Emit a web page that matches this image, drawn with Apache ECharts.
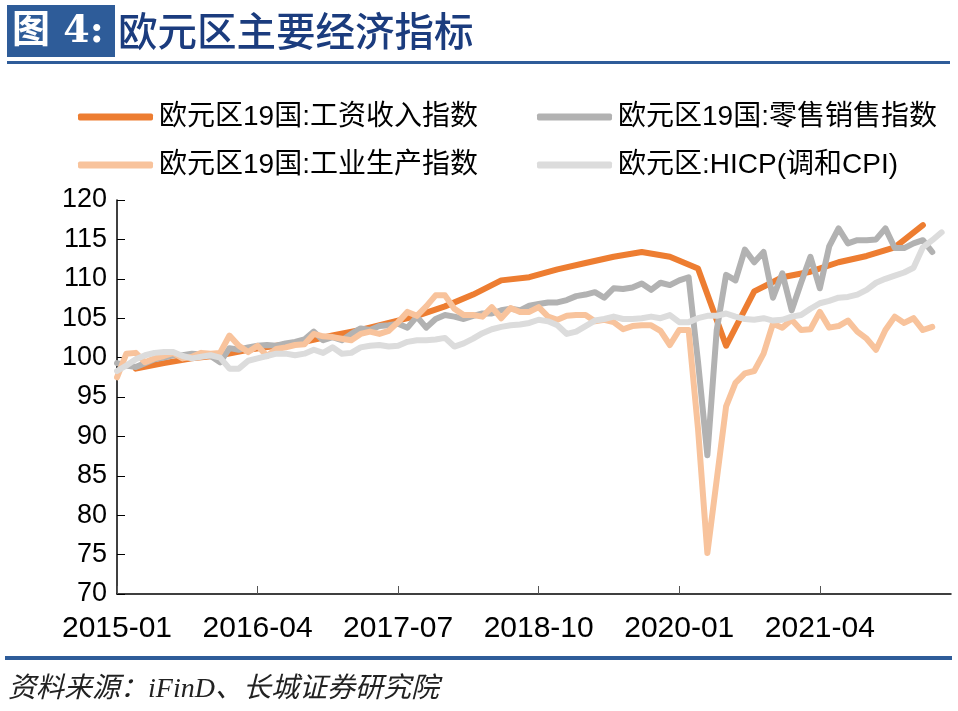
<!DOCTYPE html>
<html><head><meta charset="utf-8">
<script src="https://cdn.jsdelivr.net/npm/echarts@6/dist/echarts.min.js"></script>
<style>html,body{margin:0;padding:0;background:#fff}#c{width:958px;height:711px}</style>
</head><body><div id="c"></div>
<script>
const months = ['2015-01','2015-02','2015-03','2015-04','2015-05','2015-06','2015-07','2015-08','2015-09','2015-10','2015-11','2015-12',
'2016-01','2016-02','2016-03','2016-04','2016-05','2016-06','2016-07','2016-08','2016-09','2016-10','2016-11','2016-12',
'2017-01','2017-02','2017-03','2017-04','2017-05','2017-06','2017-07','2017-08','2017-09','2017-10','2017-11','2017-12',
'2018-01','2018-02','2018-03','2018-04','2018-05','2018-06','2018-07','2018-08','2018-09','2018-10','2018-11','2018-12',
'2019-01','2019-02','2019-03','2019-04','2019-05','2019-06','2019-07','2019-08','2019-09','2019-10','2019-11','2019-12',
'2020-01','2020-02','2020-03','2020-04','2020-05','2020-06','2020-07','2020-08','2020-09','2020-10','2020-11','2020-12',
'2021-01','2021-02','2021-03','2021-04','2021-05','2021-06','2021-07','2021-08','2021-09','2021-10','2021-11','2021-12',
'2022-01','2022-02','2022-03','2022-04','2022-05','2022-06'];

const seriesNames = ['欧元区19国:工资收入指数','欧元区19国:零售销售指数','欧元区19国:工业生产指数','欧元区:HICP(调和CPI)'];

const wageDates = ['2015-03','2015-06','2015-09','2015-12','2016-03','2016-06','2016-09','2016-12','2017-03','2017-06','2017-09','2017-12',
'2018-03','2018-06','2018-09','2018-12','2019-03','2019-06','2019-09','2019-12','2020-03','2020-06','2020-09','2020-12',
'2021-03','2021-06','2021-09','2021-12','2022-03'];
const wageValues = [98.6,99.3,99.9,100.3,101.0,101.5,102.0,102.8,103.5,104.4,105.3,106.5,
108.0,109.8,110.2,111.2,112.0,112.8,113.4,112.8,111.3,101.5,108.4,110.2,
110.9,112.1,112.9,114.0,116.8];

const retailValues = [99.3,99.0,98.8,99.3,99.8,100.0,100.3,100.3,100.5,100.4,100.2,99.4,
101.2,101.0,101.3,101.5,101.6,101.5,101.8,102.0,102.3,103.3,102.2,102.6,
102.2,103.0,103.7,103.5,104.0,104.1,104.3,103.8,105.2,103.8,104.9,105.4,
105.2,104.9,105.3,105.6,105.6,106.0,106.2,106.0,106.6,106.8,107.0,107.0,
107.3,107.8,108.0,108.3,107.6,108.8,108.7,108.9,109.4,108.6,109.5,109.2,
109.8,110.2,99.5,87.6,103.5,110.5,109.8,113.7,112.1,113.4,107.6,110.7,
106.0,109.5,112.8,108.8,114.1,116.4,114.5,114.9,114.9,115.0,116.4,113.9,
113.9,114.5,114.9,113.4];

const ipValues = [97.5,100.5,100.6,99.4,99.9,100.2,100.6,99.9,100.1,100.6,100.5,100.6,
102.8,101.5,100.7,101.5,100.2,101.1,101.3,101.6,101.7,103.0,102.7,102.6,
102.4,102.2,103.0,103.3,103.0,103.4,104.5,105.8,105.3,106.5,107.9,107.9,
106.2,105.4,105.4,105.2,106.4,105.0,106.3,105.8,105.8,106.4,105.2,104.8,
105.3,105.4,105.4,104.6,104.8,104.5,103.6,104.0,104.1,104.1,103.4,101.6,
103.5,103.5,91.0,75.2,84.5,93.8,96.8,98.0,98.3,100.5,104.3,103.8,
104.8,103.5,103.6,105.8,103.8,104.0,104.7,103.3,102.4,101.0,103.5,105.2,
104.4,105.0,103.5,103.9];

const hicpValues = [98.3,99.0,99.8,100.3,100.6,100.7,100.7,100.2,99.9,100.1,100.3,100.0,
98.6,98.6,99.6,99.9,100.2,100.5,100.5,100.3,100.5,101.0,100.6,101.3,
100.5,100.6,101.3,101.5,101.6,101.4,101.5,102.0,102.2,102.2,102.3,102.5,
101.4,101.8,102.4,103.1,103.6,103.9,104.1,104.2,104.4,104.8,104.6,104.1,
103.0,103.3,104.0,104.7,104.9,105.2,104.9,104.9,105.0,105.2,105.0,105.4,
104.5,104.5,105.0,105.3,105.3,105.6,105.2,104.9,104.8,105.0,104.7,104.8,
105.2,105.4,106.2,106.9,107.2,107.6,107.7,108.0,108.6,109.5,110.0,110.4,
110.8,111.4,114.0,114.9,115.9];

const yTicks = {min: 70, max: 120, interval: 5};
const colors = ['#ED7D31', '#B2B2B2', '#F8C39C', '#DCDCDC'];

const chart = echarts.init(document.getElementById('c'), null, {renderer: 'canvas'});

const wageData = wageDates.map((d, i) => [d, wageValues[i]]);
const dataList = [wageData, retailValues, ipValues, hicpValues];

function legendAt(name, left, top) {
  return {
    data: [name], left: left, top: top, orient: 'horizontal',
    icon: 'roundRect', itemWidth: 75, itemHeight: 7, itemGap: 0,
    selectedMode: false, padding: 0,
    textStyle: {fontSize: 28, color: '#000', fontFamily: '"Liberation Sans", "Noto Sans CJK SC", sans-serif', padding: [0,0,0,1], lineHeight: 30}
  };
}

const option = {
  animation: false,
  backgroundColor: '#fff',
  color: colors,
  legend: [
    legendAt(seriesNames[0], 78, 102),
    legendAt(seriesNames[1], 537, 102),
    legendAt(seriesNames[2], 78, 150),
    legendAt(seriesNames[3], 537, 150)
  ],
  grid: {left: 117, right: 7, top: 200, bottom: 117},
  xAxis: {
    type: 'category', data: months, boundaryGap: false,
    axisLine: {show: true, lineStyle: {color: '#000', width: 1.5}},
    axisTick: {show: true, inside: true, length: 8, interval: 14, lineStyle: {color: '#555', width: 1}},
    axisLabel: {interval: 14, fontSize: 30, color: '#000', margin: 20, fontFamily: '"Liberation Sans", Arial, sans-serif'},
    splitLine: {show: false}
  },
  yAxis: {
    type: 'value', min: yTicks.min, max: yTicks.max, interval: yTicks.interval,
    axisLine: {show: true, lineStyle: {color: '#000', width: 1.5}},
    axisTick: {show: true, inside: true, length: 8, lineStyle: {color: '#000'}},
    axisLabel: {fontSize: 27, color: '#000', margin: 10, fontFamily: '"Liberation Sans", Arial, sans-serif'},
    splitLine: {show: false}
  },
  series: seriesNames.map((n, i) => ({
    name: n, type: 'line', data: dataList[i], symbol: 'none', connectNulls: true,
    lineStyle: {width: 6, color: colors[i], cap: 'round', join: 'round'},
    itemStyle: {color: colors[i]}
  })),
  graphic: [
    {type: 'rect', shape: {x: 7, y: 5, width: 108, height: 52}, style: {fill: '#2E5C99'}},
    {type: 'text', x: 12, y: 32, style: {text: '图 4:', fill: '#fff', font: 'bold 38px "DejaVu Serif", "Noto Sans CJK SC", serif', textVerticalAlign: 'middle'}},
    {type: 'text', x: 118, y: 31, style: {text: '欧元区主要经济指标', fill: '#1B3C7E', font: '500 39.5px "Noto Sans CJK SC", sans-serif', textVerticalAlign: 'middle'}},
    {type: 'rect', shape: {x: 7, y: 61, width: 943, height: 3}, style: {fill: '#2E5C99'}},
    {type: 'rect', shape: {x: 5, y: 656, width: 947, height: 4}, style: {fill: '#2E5C99'}},
    {type: 'text', x: 8, y: 690, style: {text: '资料来源：iFinD、长城证券研究院', fill: '#222', font: 'italic 28px "Liberation Serif", "Noto Sans CJK SC", serif', textVerticalAlign: 'middle'}}
  ]
};
chart.setOption(option);
</script></body></html>
